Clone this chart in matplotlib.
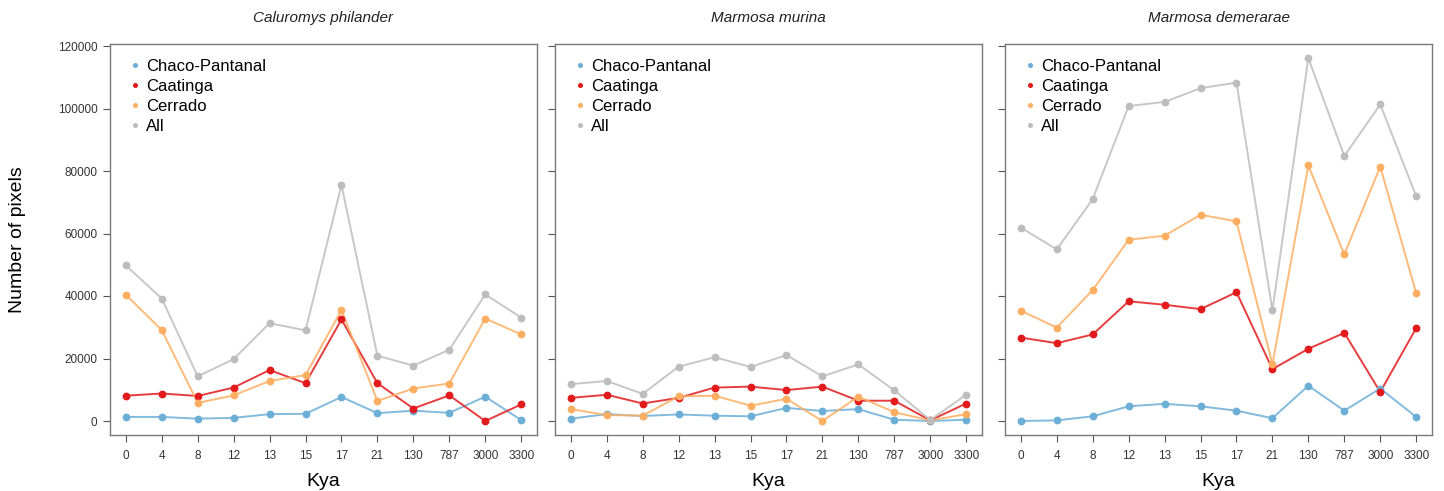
import matplotlib
matplotlib.use('Agg')
import matplotlib.pyplot as plt
from matplotlib.lines import Line2D

plt.rcParams['font.family'] = ['Liberation Sans', 'DejaVu Sans']

kya_labels = ['0', '4', '8', '12', '13', '15', '17', '21', '130', '787', '3000', '3300']
species = ['Caluromys philander', 'Marmosa murina', 'Marmosa demerarae']
series_names = ['Chaco-Pantanal', 'Caatinga', 'Cerrado', 'All']
series_colors = ['#6baed6', '#e31a1c', '#fdae61', '#bdbdbd']

# Caluromys philander
cp_chaco = [1300, 1300, 750, 1000, 2200, 2300, 7700, 2500, 3300, 2600, 7800, 300]
cp_caatinga = [8100, 8800, 8000, 10700, 16300, 12100, 32500, 12100, 4000, 8200, 0, 5300]
cp_cerrado = [40400, 29100, 5800, 8200, 12800, 14700, 35500, 6400, 10400, 12000, 32800, 27700]
cp_all = [49800, 39200, 14300, 19800, 31300, 29000, 75500, 20900, 17700, 22800, 40500, 33100]

# Marmosa murina
mm_chaco = [750, 2200, 1600, 2100, 1700, 1500, 4200, 3200, 3800, 400, 0, 400]
mm_caatinga = [7400, 8400, 5600, 7400, 10700, 11000, 9900, 11000, 6500, 6500, 200, 5600]
mm_cerrado = [3800, 1900, 1700, 7900, 8100, 4900, 7100, 0, 7800, 2800, 200, 2200]
mm_all = [11800, 12800, 8700, 17400, 20400, 17300, 21100, 14300, 18100, 9800, 300, 8400]

# Marmosa demerarae
md_chaco = [0, 200, 1500, 4700, 5500, 4700, 3300, 900, 11300, 3300, 10400, 1300]
md_caatinga = [26700, 24900, 27700, 38300, 37200, 35800, 41200, 16600, 23100, 28200, 9300, 29700]
md_cerrado = [35300, 29900, 41900, 58000, 59300, 66000, 63900, 18100, 81800, 53300, 81400, 40900]
md_all = [61900, 54900, 71000, 100800, 102100, 106500, 108300, 35400, 116100, 84800, 101300, 71900]

panels = [
    [cp_chaco, cp_caatinga, cp_cerrado, cp_all],
    [mm_chaco, mm_caatinga, mm_cerrado, mm_all],
    [md_chaco, md_caatinga, md_cerrado, md_all],
]
yticks = [0, 20000, 40000, 60000, 80000, 100000, 120000]

W, H = 1444, 491
fig = plt.figure(figsize=(W / 100, H / 100), dpi=100)
lefts = [110, 555, 1005]
aw = 427
top, bottom = 44, 435

for i, data in enumerate(panels):
    ax = fig.add_axes([lefts[i] / W, 1 - bottom / H, aw / W, (bottom - top) / H])
    x = list(range(1, len(kya_labels) + 1))
    for vals, col in zip(data, series_colors):
        ax.plot(x, vals, color=col, lw=1.4, alpha=0.85, zorder=2)
        ax.plot(x, vals, color=col, lw=0, marker='o', ms=4.6, zorder=3)
    ax.set_xlim(1 - 0.44, len(x) + 0.44)
    ax.set_ylim(-4480, 120640)
    ax.set_xticks(x)
    ax.set_xticklabels(kya_labels)
    ax.set_yticks(yticks)
    if i == 0:
        ax.set_yticklabels([str(v) for v in yticks])
    else:
        ax.set_yticklabels([''] * len(yticks))
    ax.tick_params(direction='out', length=5, width=0.8, color='#555555',
                   labelsize=8.5, labelcolor='#333333', pad=4)
    ax.tick_params(axis='x', pad=6)
    for sp in ax.spines.values():
        sp.set_color('#7a7a7a')
        sp.set_linewidth(1.0)
    ax.set_xlabel('Kya', fontsize=14, labelpad=8)
    fig.text((lefts[i] + aw / 2) / W, 1 - 18 / H, species[i], style='italic',
             fontsize=11, ha='center', va='center', color='#222222')
    handles = [Line2D([], [], lw=0, marker='o', ms=2.6, color=c) for c in series_colors]
    ax.legend(handles, series_names, loc='upper left', bbox_to_anchor=(0.045, 0.962),
              frameon=False, fontsize=12, handlelength=0.7, handletextpad=0.3,
              labelspacing=0.30, borderaxespad=0, borderpad=0)

fig.text(18 / W, 1 - ((top + bottom) / 2) / H, 'Number of pixels', rotation=90,
         fontsize=14, ha='center', va='center')

fig.savefig('out.png', dpi=100)
